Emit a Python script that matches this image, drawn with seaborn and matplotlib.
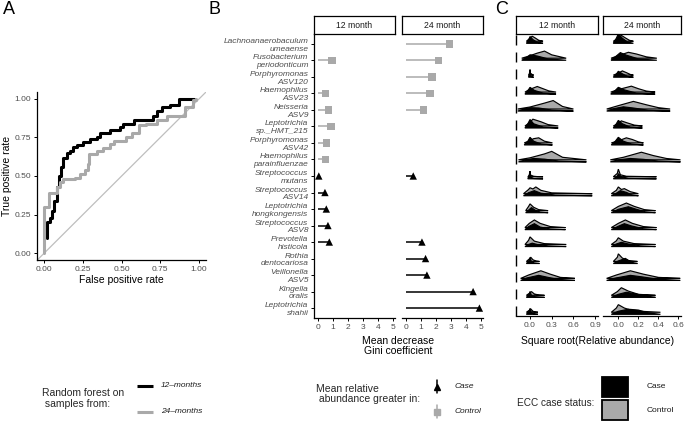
import numpy as np
import pandas as pd
import matplotlib
matplotlib.use('Agg')
import matplotlib.pyplot as plt
import seaborn as sns
from matplotlib.patches import Rectangle
from matplotlib.transforms import blended_transform_factory

sns.set_theme(style='ticks')
plt.rcParams['font.family'] = ['Liberation Sans', 'DejaVu Sans']

W, H = 685, 422
GREY = '#A9A9A9'
TXT = '#4D4D4D'

# === A: ROC curves ===
roc12_fpr = [0.015, 0.02, 0.037, 0.047, 0.064, 0.08, 0.097, 0.108, 0.123, 0.145, 0.166, 0.188, 0.21,
             0.25, 0.295, 0.34, 0.36, 0.425, 0.49, 0.51, 0.58, 0.70, 0.73, 0.76, 0.81, 0.87, 0.97]
roc12_tpr = [0.10, 0.20, 0.23, 0.27, 0.34, 0.43, 0.50, 0.56, 0.62, 0.65, 0.66, 0.69, 0.70,
             0.72, 0.74, 0.75, 0.78, 0.80, 0.82, 0.84, 0.865, 0.89, 0.92, 0.95, 0.96, 1.0, 1.0]
roc24_fpr = [0.0, 0.0, 0.032, 0.084, 0.10, 0.123, 0.20, 0.23, 0.26, 0.28, 0.29, 0.34, 0.38,
             0.425, 0.45, 0.53, 0.565, 0.61, 0.66, 0.73, 0.79, 0.91, 0.96, 0.98]
roc24_tpr = [0.0, 0.30, 0.39, 0.43, 0.46, 0.48, 0.49, 0.51, 0.54, 0.58, 0.64, 0.66, 0.68,
             0.71, 0.73, 0.75, 0.78, 0.83, 0.84, 0.865, 0.887, 0.95, 0.99, 1.0]

# === B: mean decrease Gini ===
taxa = ['Lachnoanaerobaculum\numeaense', 'Fusobacterium\nperiodonticum', 'Porphyromonas\nASV120',
        'Haemophilus\nASV23', 'Neisseria\nASV9', 'Leptotrichia\nsp._HMT_215', 'Porphyromonas\nASV42',
        'Haemophilus\nparainfluenzae', 'Streptococcus\nmutans', 'Streptococcus\nASV14',
        'Leptotrichia\nhongkongensis', 'Streptococcus\nASV8', 'Prevotella\nhisticola',
        'Rothia\ndentocariosa', 'Veillonella\nASV5', 'Kingella\noralis', 'Leptotrichia\nshahii']
greater_in = ['Control'] * 8 + ['Case'] * 9
gini_12 = [np.nan, 0.92, np.nan, 0.50, 0.70, 0.86, 0.57, 0.50, 0.05, 0.46, 0.55, 0.66, 0.75,
           np.nan, np.nan, np.nan, np.nan]
gini_24 = [2.89, 2.16, 1.72, 1.59, 1.15, np.nan, np.nan, np.nan, 0.48, np.nan, np.nan, np.nan,
           1.06, 1.30, 1.39, 4.47, 4.89]

# === C: ridge density outlines (x, height in row units), one per taxon ===
c12_case = [
    [(-0.05, 0), (-0.02, 0.18), (0.0, 0.40), (0.04, 0.22), (0.10, 0.06), (0.18, 0)],
    [(-0.115, 0), (-0.05, 0.15), (0.0, 0.32), (0.10, 0.25), (0.25, 0.08), (0.50, 0)],
    [(-0.02, 0), (-0.005, 0.30), (0.0, 0.45), (0.01, 0.10), (0.03, 0.02), (0.05, 0)],
    [(-0.07, 0), (-0.03, 0.20), (0.0, 0.40), (0.06, 0.22), (0.18, 0.06), (0.36, 0)],
    [(-0.17, 0), (-0.08, 0.12), (0.0, 0.20), (0.12, 0.18), (0.30, 0.06), (0.60, 0)],
    [(-0.07, 0), (-0.03, 0.25), (0.0, 0.50), (0.05, 0.25), (0.18, 0.06), (0.39, 0)],
    [(-0.08, 0), (-0.03, 0.22), (0.0, 0.45), (0.05, 0.22), (0.15, 0.06), (0.31, 0)],
    [(-0.16, 0), (-0.06, 0.12), (0.05, 0.20), (0.20, 0.16), (0.40, 0.05), (0.78, 0)],
    [(-0.03, 0), (-0.01, 0.25), (0.0, 0.45), (0.01, 0.10), (0.05, 0.02), (0.18, 0)],
    [(-0.09, 0), (-0.02, 0.18), (0.06, 0.30), (0.15, 0.15), (0.35, 0.04), (0.86, 0)],
    [(-0.06, 0), (-0.02, 0.15), (0.02, 0.30), (0.07, 0.15), (0.14, 0.04), (0.25, 0)],
    [(-0.07, 0), (-0.02, 0.18), (0.06, 0.35), (0.14, 0.15), (0.28, 0.04), (0.49, 0)],
    [(-0.07, 0), (-0.02, 0.12), (0.03, 0.20), (0.10, 0.12), (0.25, 0.04), (0.50, 0)],
    [(-0.05, 0), (-0.01, 0.20), (0.0, 0.35), (0.02, 0.10), (0.06, 0.03), (0.13, 0)],
    [(-0.13, 0), (-0.04, 0.15), (0.12, 0.30), (0.25, 0.18), (0.40, 0.05), (0.62, 0)],
    [(-0.05, 0), (-0.01, 0.20), (0.0, 0.35), (0.02, 0.10), (0.07, 0.03), (0.20, 0)],
    [(-0.05, 0), (-0.01, 0.20), (0.0, 0.35), (0.02, 0.10), (0.05, 0.03), (0.11, 0)],
]
c12_ctrl = [
    [(-0.05, 0), (-0.01, 0.15), (0.03, 0.30), (0.07, 0.20), (0.12, 0.06), (0.18, 0)],
    [(-0.115, 0), (-0.02, 0.12), (0.10, 0.30), (0.20, 0.42), (0.30, 0.20), (0.50, 0)],
    [(-0.02, 0), (0.0, 0.12), (0.01, 0.10), (0.03, 0.04), (0.04, 0.02), (0.05, 0)],
    [(-0.07, 0), (-0.01, 0.15), (0.10, 0.33), (0.18, 0.20), (0.26, 0.07), (0.36, 0)],
    [(-0.17, 0), (0.0, 0.12), (0.20, 0.35), (0.32, 0.50), (0.45, 0.15), (0.60, 0)],
    [(-0.07, 0), (-0.02, 0.15), (0.04, 0.40), (0.15, 0.25), (0.25, 0.08), (0.39, 0)],
    [(-0.08, 0), (-0.01, 0.12), (0.05, 0.25), (0.12, 0.30), (0.20, 0.10), (0.31, 0)],
    [(-0.16, 0), (0.0, 0.12), (0.20, 0.35), (0.30, 0.50), (0.45, 0.15), (0.78, 0)],
    [(-0.03, 0), (0.0, 0.12), (0.02, 0.08), (0.05, 0.03), (0.10, 0.01), (0.18, 0)],
    [(-0.09, 0), (-0.02, 0.25), (0.0, 0.35), (0.04, 0.28), (0.08, 0.40), (0.15, 0.20), (0.30, 0.05), (0.86, 0)],
    [(-0.06, 0), (-0.02, 0.25), (0.0, 0.40), (0.05, 0.20), (0.12, 0.06), (0.25, 0)],
    [(-0.07, 0), (-0.01, 0.25), (0.06, 0.45), (0.14, 0.25), (0.28, 0.06), (0.49, 0)],
    [(-0.07, 0), (-0.02, 0.25), (0.0, 0.45), (0.06, 0.20), (0.20, 0.05), (0.50, 0)],
    [(-0.05, 0), (-0.01, 0.15), (0.01, 0.25), (0.04, 0.10), (0.08, 0.03), (0.13, 0)],
    [(-0.13, 0), (-0.02, 0.20), (0.15, 0.45), (0.28, 0.25), (0.42, 0.06), (0.62, 0)],
    [(-0.05, 0), (0.0, 0.15), (0.02, 0.22), (0.06, 0.08), (0.12, 0.02), (0.20, 0)],
    [(-0.05, 0), (0.0, 0.15), (0.01, 0.20), (0.04, 0.06), (0.07, 0.02), (0.11, 0)],
]
c24_case = [
    [(-0.05, 0), (-0.02, 0.30), (0.0, 0.55), (0.04, 0.30), (0.09, 0.08), (0.15, 0)],
    [(-0.073, 0), (-0.02, 0.25), (0.02, 0.45), (0.08, 0.30), (0.20, 0.08), (0.384, 0)],
    [(-0.05, 0), (-0.02, 0.18), (0.0, 0.35), (0.04, 0.20), (0.09, 0.05), (0.15, 0)],
    [(-0.076, 0), (-0.03, 0.22), (0.0, 0.40), (0.06, 0.25), (0.18, 0.06), (0.367, 0)],
    [(-0.116, 0), (-0.04, 0.15), (0.05, 0.25), (0.15, 0.18), (0.30, 0.05), (0.517, 0)],
    [(-0.05, 0), (-0.02, 0.25), (0.0, 0.45), (0.04, 0.25), (0.12, 0.05), (0.24, 0)],
    [(-0.07, 0), (-0.03, 0.22), (0.0, 0.45), (0.05, 0.22), (0.13, 0.06), (0.25, 0)],
    [(-0.08, 0), (0.0, 0.12), (0.12, 0.20), (0.25, 0.15), (0.40, 0.05), (0.62, 0)],
    [(-0.05, 0), (-0.01, 0.15), (0.0, 0.30), (0.03, 0.12), (0.10, 0.03), (0.38, 0)],
    [(-0.07, 0), (-0.02, 0.15), (0.02, 0.30), (0.08, 0.20), (0.13, 0.06), (0.20, 0)],
    [(-0.07, 0), (0.0, 0.20), (0.10, 0.35), (0.18, 0.20), (0.27, 0.05), (0.37, 0)],
    [(-0.07, 0), (0.0, 0.20), (0.06, 0.35), (0.13, 0.22), (0.25, 0.05), (0.38, 0)],
    [(-0.07, 0), (-0.02, 0.15), (0.03, 0.25), (0.10, 0.15), (0.22, 0.04), (0.37, 0)],
    [(-0.05, 0), (0.0, 0.15), (0.07, 0.30), (0.11, 0.15), (0.15, 0.04), (0.19, 0)],
    [(-0.117, 0), (-0.02, 0.15), (0.12, 0.30), (0.25, 0.20), (0.40, 0.06), (0.617, 0)],
    [(-0.07, 0), (0.0, 0.18), (0.08, 0.30), (0.18, 0.20), (0.28, 0.06), (0.37, 0)],
    [(-0.07, 0), (0.0, 0.18), (0.10, 0.30), (0.20, 0.25), (0.30, 0.08), (0.42, 0)],
]
c24_ctrl = [
    [(-0.05, 0), (-0.01, 0.15), (0.03, 0.35), (0.07, 0.20), (0.11, 0.06), (0.15, 0)],
    [(-0.073, 0), (0.0, 0.15), (0.10, 0.35), (0.18, 0.25), (0.28, 0.08), (0.384, 0)],
    [(-0.05, 0), (0.0, 0.12), (0.04, 0.25), (0.08, 0.15), (0.12, 0.04), (0.15, 0)],
    [(-0.076, 0), (0.0, 0.15), (0.13, 0.35), (0.20, 0.20), (0.28, 0.06), (0.367, 0)],
    [(-0.116, 0), (0.0, 0.20), (0.15, 0.45), (0.28, 0.25), (0.40, 0.08), (0.517, 0)],
    [(-0.05, 0), (-0.01, 0.12), (0.03, 0.30), (0.09, 0.18), (0.16, 0.05), (0.24, 0)],
    [(-0.07, 0), (0.0, 0.12), (0.08, 0.30), (0.14, 0.20), (0.20, 0.06), (0.25, 0)],
    [(-0.08, 0), (0.05, 0.15), (0.23, 0.45), (0.35, 0.25), (0.48, 0.08), (0.62, 0)],
    [(-0.05, 0), (-0.01, 0.20), (0.0, 0.45), (0.02, 0.12), (0.08, 0.03), (0.38, 0)],
    [(-0.07, 0), (-0.02, 0.20), (0.0, 0.40), (0.03, 0.25), (0.06, 0.30), (0.12, 0.12), (0.20, 0)],
    [(-0.07, 0), (0.0, 0.25), (0.08, 0.45), (0.16, 0.25), (0.26, 0.06), (0.37, 0)],
    [(-0.07, 0), (0.0, 0.25), (0.07, 0.45), (0.14, 0.25), (0.25, 0.06), (0.38, 0)],
    [(-0.07, 0), (-0.02, 0.22), (0.0, 0.40), (0.05, 0.20), (0.16, 0.05), (0.37, 0)],
    [(-0.05, 0), (-0.01, 0.25), (0.0, 0.45), (0.04, 0.20), (0.10, 0.05), (0.19, 0)],
    [(-0.117, 0), (-0.02, 0.20), (0.12, 0.45), (0.25, 0.25), (0.40, 0.06), (0.617, 0)],
    [(-0.07, 0), (-0.01, 0.22), (0.03, 0.45), (0.10, 0.25), (0.20, 0.06), (0.37, 0)],
    [(-0.07, 0), (-0.02, 0.25), (0.0, 0.45), (0.06, 0.25), (0.15, 0.08), (0.42, 0)],
]

fig = plt.figure(figsize=(W / 100, H / 100), dpi=100)


def px_axes(x0, y0, x1, y1):
    return fig.add_axes([x0 / W, 1 - y1 / H, (x1 - x0) / W, (y1 - y0) / H])


def style_axes(ax, left=True, bottom=True):
    for side in ['top', 'right']:
        ax.spines[side].set_visible(False)
    ax.spines['left'].set_visible(left)
    ax.spines['bottom'].set_visible(bottom)
    for side in ['left', 'bottom']:
        ax.spines[side].set_color('black')
        ax.spines[side].set_linewidth(0.9)
    ax.tick_params(axis='both', color='black', labelcolor=TXT, length=2.5, width=0.7,
                   labelsize=6, pad=1.5)
    ax.set_facecolor('white')
    ax.grid(False)


def strip(x0, x1, label):
    sa = px_axes(x0, 16, x1, 34)
    sa.set_xticks([])
    sa.set_yticks([])
    for sp in sa.spines.values():
        sp.set_visible(True)
        sp.set_color('black')
        sp.set_linewidth(0.9)
    sa.text(0.5, 0.5, label, ha='center', va='center', fontsize=6.2, color='#1A1A1A',
            transform=sa.transAxes)


# ---- Panel A ----
roc_df = pd.concat([
    pd.DataFrame({'fpr': roc12_fpr, 'tpr': roc12_tpr, 'model': '12-months'}),
    pd.DataFrame({'fpr': roc24_fpr, 'tpr': roc24_tpr, 'model': '24-months'}),
])
axA = px_axes(37, 92, 206, 260)
axA.axline((0, 0), slope=1, color='#BEBEBE', linewidth=0.9, zorder=1)
sns.lineplot(data=roc_df, x='fpr', y='tpr', hue='model', sort=False, estimator=None,
             palette={'12-months': 'black', '24-months': GREY}, linewidth=2.2,
             drawstyle='steps-post', legend=False, ax=axA, zorder=3)
axA.set_xlim(-0.047, 1.045)
axA.set_ylim(-0.045, 1.045)
axA.set_xticks([0, 0.25, 0.5, 0.75, 1.0])
axA.set_yticks([0, 0.25, 0.5, 0.75, 1.0])
axA.set_xticklabels(['0.00', '0.25', '0.50', '0.75', '1.00'])
axA.set_yticklabels(['0.00', '0.25', '0.50', '0.75', '1.00'])
style_axes(axA)
axA.set_xlabel('False positive rate', fontsize=7.5, color='black', labelpad=2)
axA.set_ylabel('True positive rate', fontsize=7.5, color='black', labelpad=2)

# ---- Panel B ----
rows = np.arange(1, len(taxa) + 1)
gini_df = pd.concat([
    pd.DataFrame({'row': rows, 'gini': gini_12, 'greater': greater_in, 'month': '12 month'}),
    pd.DataFrame({'row': rows, 'gini': gini_24, 'greater': greater_in, 'month': '24 month'}),
]).dropna()
pal = {'Case': 'black', 'Control': GREY}
for month, (x0, x1) in [('12 month', (314, 395)), ('24 month', (402, 483))]:
    ax = px_axes(x0, 34, x1, 318)
    d = gini_df[gini_df['month'] == month]
    ax.hlines(d['row'], 0, d['gini'], colors=[pal[g] for g in d['greater']],
              linewidth=1.1, zorder=2)
    sns.scatterplot(data=d, x='gini', y='row', hue='greater', style='greater',
                    markers={'Case': '^', 'Control': 's'}, palette=pal, s=28,
                    linewidth=0, legend=False, ax=ax, zorder=3)
    ax.set_xlim(-0.27, 5.13)
    ax.set_ylim(17.6, 0.4)
    ax.set_xticks(range(6))
    ax.set_xlabel('')
    ax.set_ylabel('')
    first = month == '12 month'
    style_axes(ax, left=first)
    if first:
        ax.set_yticks(rows)
        ax.set_yticklabels(taxa, fontsize=6, style='italic', color=TXT, linespacing=1.15)
    else:
        ax.set_yticks([])
    strip(x0, x1, month)

fig.text(398 / W, 1 - 346 / H, 'Mean decrease\nGini coefficient', ha='center', va='center',
         fontsize=7.5, color='black', linespacing=1.1)

# ---- Panel C ----
for month, (x0, x1), curves_case, curves_ctrl, xlim, xt in [
        ('12 month', (516, 598), c12_case, c12_ctrl, (-0.194, 0.94), [0.0, 0.3, 0.6, 0.9]),
        ('24 month', (603, 681), c24_case, c24_ctrl, (-0.153, 0.625), [0.0, 0.2, 0.4, 0.6])]:
    ax = px_axes(x0, 34, x1, 316)
    for i, (cc, ct) in enumerate(zip(curves_case, curves_ctrl)):
        r = i + 1
        xs, hs = zip(*ct)
        ax.fill(xs, [r - 0.12 - h for h in hs], facecolor=GREY, edgecolor='black',
                linewidth=0.85, zorder=2 + 2 * i)
        xs, hs = zip(*cc)
        ax.fill(xs, [r - h for h in hs], facecolor='black', edgecolor='black',
                linewidth=0.85, zorder=3 + 2 * i)
    ax.set_xlim(*xlim)
    ax.set_ylim(17.1, 0.45)
    ax.set_xticks(xt)
    ax.set_xticklabels([f'{v:.1f}' for v in xt])
    ax.set_yticks([])
    style_axes(ax, left=False)
    if month == '12 month':
        tr = blended_transform_factory(ax.transAxes, ax.transData)
        ax.vlines(np.zeros(len(rows)), rows - 0.5, rows + 0.12, transform=tr, color='black',
                  linewidth=1.0, clip_on=False)
    strip(x0, x1, month)

fig.text(598 / W, 1 - 341 / H, 'Square root(Relative abundance)', ha='center', va='center',
         fontsize=7.5, color='black')

# ---- overlay: panel letters and legends ----
ov = fig.add_axes([0, 0, 1, 1])
ov.set_xlim(0, W)
ov.set_ylim(H, 0)
ov.axis('off')
for letter, x in [('A', 3), ('B', 209), ('C', 495)]:
    ov.text(x, 10, letter, fontsize=13, ha='left', va='center', color='black')

# legend A
ov.text(42, 398.5, 'Random forest on\n samples from:', fontsize=7.5, ha='left', va='center',
        linespacing=1.1)
for y, lab, col in [(385.7, '12–months', 'black'), (411.7, '24–months', GREY)]:
    ov.plot([137, 153], [y, y], color=col, linewidth=2.2, solid_capstyle='butt')
    ov.text(161, y, lab, fontsize=6, style='italic', va='center', color='#1A1A1A')

# legend B
ov.text(316, 394, 'Mean relative\n abundance greater in:', fontsize=7.5, ha='left', va='center',
        linespacing=1.1)
for y, lab, col, mk in [(386.5, 'Case', 'black', '^'), (411.7, 'Control', GREY, 's')]:
    ov.plot([436.7, 436.7], [y - 6.5, y + 6.5], color=col, linewidth=1.1)
    ov.plot([436.7], [y], marker=mk, color=col, markersize=5, linestyle='none')
    ov.text(455, y, lab, fontsize=6, style='italic', va='center', color='#1A1A1A')

# legend C
ov.text(517, 403, 'ECC case status:', fontsize=7.2, ha='left', va='center')
for y, lab, col in [(377, 'Case', 'black'), (400, 'Control', GREY)]:
    ov.add_patch(Rectangle((602, y), 26, 20, facecolor=col, edgecolor='black', linewidth=1.3))
    ov.text(647, y + 10, lab, fontsize=6, va='center', color='#1A1A1A')

fig.savefig('out.png', dpi=100)
